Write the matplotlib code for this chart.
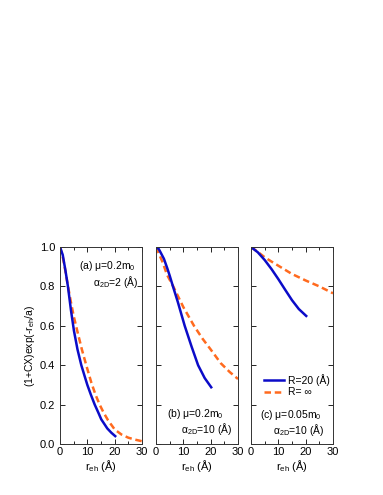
import matplotlib
matplotlib.use("Agg")
import matplotlib.pyplot as plt
from matplotlib.ticker import MultipleLocator, FormatStrFormatter

plt.rcParams['font.family'] = ['Liberation Sans', 'DejaVu Sans']
plt.rcParams['mathtext.fontset'] = 'custom'
plt.rcParams['mathtext.rm'] = 'Liberation Sans'
plt.rcParams['mathtext.it'] = 'Liberation Sans'

# Panel (a)
a_blue_x = [0, 1, 2, 2.9, 4, 5.1, 6.4, 7.8, 9, 10, 11.3, 12.7, 14, 15.1, 16.3, 17.3, 18.8, 20.2]
a_blue_y = [1.0, 0.96, 0.88, 0.80, 0.68, 0.575, 0.48, 0.40, 0.345, 0.30, 0.25, 0.20, 0.16,
            0.125, 0.10, 0.079, 0.057, 0.04]
a_or_x = [0, 1, 1.7, 2.8, 4, 5, 6.3, 8, 9.6, 11.5, 13, 14.5, 16, 17.6, 20, 22.5, 25, 27.5, 29.1, 30]
a_or_y = [1.0, 0.95, 0.90, 0.81, 0.72, 0.65, 0.575, 0.48, 0.40, 0.31, 0.25, 0.20, 0.158, 0.12,
          0.074, 0.048, 0.032, 0.022, 0.017, 0.014]

# Panel (b)
b_blue_x = [0, 1, 1.7, 2.9, 4.1, 5, 6.2, 8, 10.5, 13, 15.4, 17.8, 20.2]
b_blue_y = [1.0, 0.99, 0.972, 0.94, 0.893, 0.855, 0.80, 0.72, 0.60, 0.495, 0.40, 0.335, 0.288]
b_or_x = [0, 2.5, 4, 6.3, 10, 13.9, 17, 20, 23.7, 27, 30]
b_or_y = [1.0, 0.92, 0.86, 0.80, 0.695, 0.60, 0.535, 0.48, 0.41, 0.365, 0.33]

# Panel (c)
c_blue_x = [0, 2.5, 5, 7.5, 10, 12.5, 15, 17.5, 20.2]
c_blue_y = [1.0, 0.973, 0.934, 0.888, 0.837, 0.783, 0.73, 0.685, 0.65]
c_or_x = [0, 2.5, 5, 7.5, 10, 15, 20, 25, 30]
c_or_y = [1.0, 0.975, 0.948, 0.926, 0.905, 0.863, 0.83, 0.80, 0.765]

blue = '#0b0bc8'
orange = '#ff6a1e'

fig = plt.figure(figsize=(3.83, 4.95), dpi=100)
lefts = [60/383, 156/383, 251/383]
w = 82/383
bottom = 1 - 444/495
h = 197/495
axes = [fig.add_axes([l, bottom, w, h]) for l in lefts]

data = [(a_blue_x, a_blue_y, a_or_x, a_or_y),
        (b_blue_x, b_blue_y, b_or_x, b_or_y),
        (c_blue_x, c_blue_y, c_or_x, c_or_y)]

fs = 8
for i, (ax, (bx, by, ox, oy)) in enumerate(zip(axes, data)):
    ax.plot(ox, oy, color=orange, lw=1.8, ls=(0, (2.6, 1.5)), label='R= ∞')
    ax.plot(bx, by, color=blue, lw=1.8, label='R=20 (Å)')
    ax.set_xlim(0, 30)
    ax.set_ylim(0, 1.0)
    ax.xaxis.set_major_locator(MultipleLocator(10))
    ax.xaxis.set_minor_locator(MultipleLocator(5))
    ax.yaxis.set_major_locator(MultipleLocator(0.2))
    ax.tick_params(which='both', direction='in', top=True, right=True, labelsize=fs, width=0.6)
    ax.tick_params(which='major', length=3.5)
    ax.tick_params(which='minor', length=2)
    for s in ax.spines.values():
        s.set_linewidth(0.7)
        s.set_color('#333333')
    ax.set_xlabel(r'r$_{\rm eh}$ (Å)', fontsize=fs, labelpad=1)
    if i > 0:
        ax.set_yticklabels([])
    ax.tick_params(axis='x', pad=2)

axes[0].set_ylabel(r'(1+CX)exp(-r$_{\rm eh}$/a)', fontsize=7.5, labelpad=2)
axes[0].yaxis.set_major_formatter(FormatStrFormatter('%.1f'))

tf = 7.5
axes[0].text(0.23, 0.905, r'(a) μ=0.2m$_0$', transform=axes[0].transAxes, fontsize=tf, va='center')
axes[0].text(0.40, 0.82, r'α$_{\rm 2D}$=2 (Å)', transform=axes[0].transAxes, fontsize=tf, va='center')
axes[1].text(0.13, 0.15, r'(b) μ=0.2m$_0$', transform=axes[1].transAxes, fontsize=tf, va='center')
axes[1].text(0.31, 0.075, r'α$_{\rm 2D}$=10 (Å)', transform=axes[1].transAxes, fontsize=tf, va='center')
axes[2].text(0.11, 0.145, r'(c) μ=0.05m$_0$', transform=axes[2].transAxes, fontsize=tf, va='center')
axes[2].text(0.27, 0.07, r'α$_{\rm 2D}$=10 (Å)', transform=axes[2].transAxes, fontsize=tf, va='center')

handles, labels = axes[2].get_legend_handles_labels()
axes[2].legend(handles[::-1], labels[::-1], loc='lower left', bbox_to_anchor=(0.07, 0.2),
               frameon=False, fontsize=tf, handlelength=1.9, handletextpad=0.4,
               labelspacing=0.15, borderpad=0.2)

fig.savefig('out.png', dpi=100)
